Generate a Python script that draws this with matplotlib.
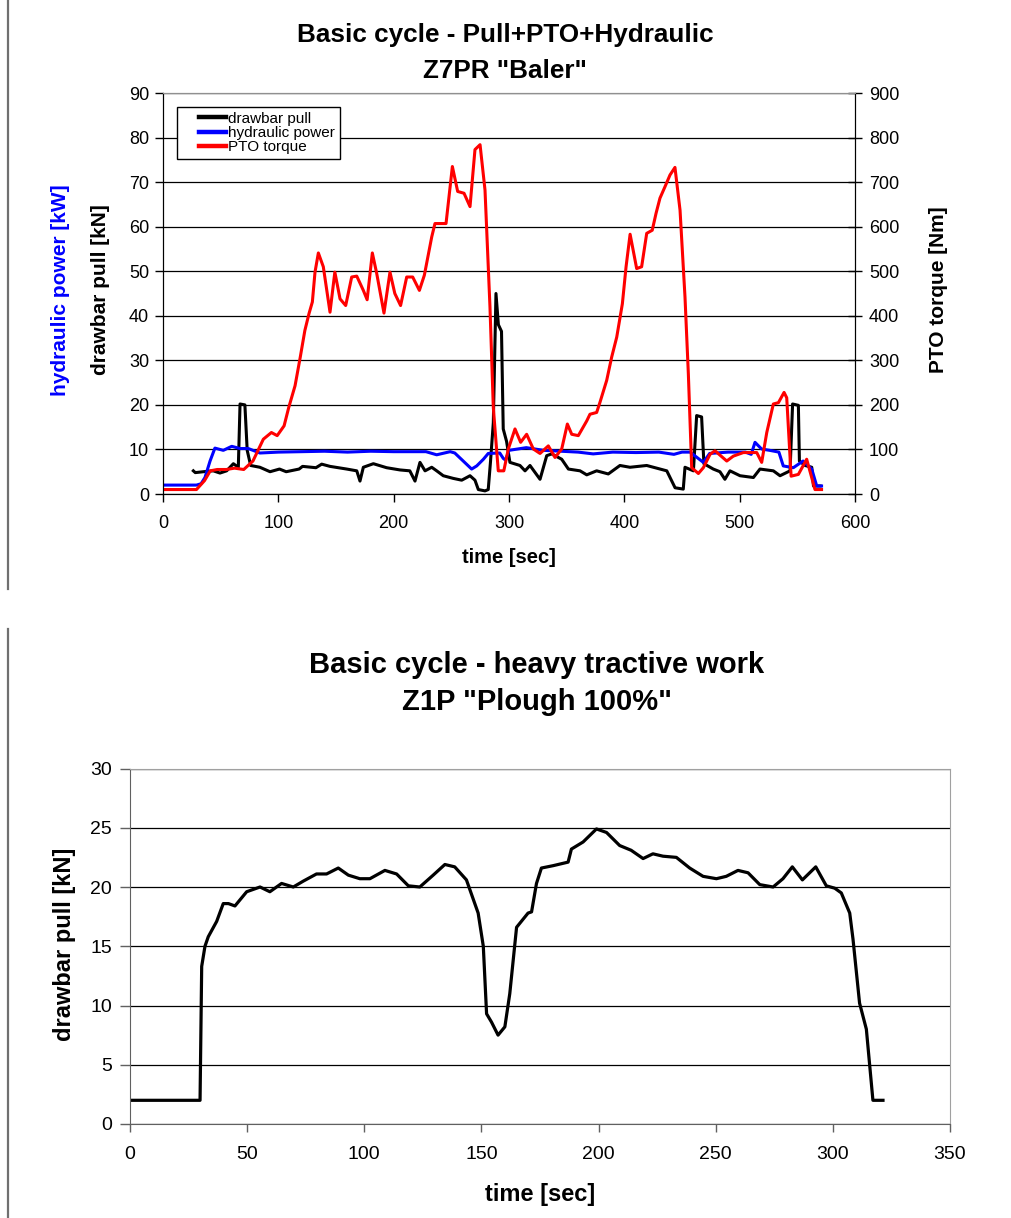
import numpy as np
import matplotlib
matplotlib.use('Agg')
import matplotlib.pyplot as plt
from matplotlib.lines import Line2D
from matplotlib.legend_handler import HandlerLine2D

plt.rcParams['font.family'] = ['Liberation Sans', 'DejaVu Sans']

# --- top chart: Z7PR "Baler" ---
t_pull = [26.3, 28, 35, 43.6, 49.4, 55.2, 61, 65.3, 66.8, 71,
          73, 76, 84, 92.8, 101, 106.8, 118, 121, 132.6, 137.6,
          144.8, 159.3, 168, 170.8, 173.7, 182.4, 193.9, 205.5, 214, 218.5,
          222.8, 227.2, 233, 237.3, 243, 251.7, 259, 266.2, 270.5, 273.4,
          279.2, 282, 284, 286.4, 288.7, 290.8, 293.5, 295, 297.9, 300.8,
          309.5, 313.9, 318.2, 326.9, 332.7, 337, 345.7, 351.5, 361.6, 367.4,
          376, 386.1, 396.2, 404.9, 419.4, 436.8, 444, 451.1, 452.6, 459.9,
          462.7, 467, 469, 477.1, 482.9, 487.2, 491.6, 500.3, 511.9, 517.6,
          529.2, 535, 543.7, 545.9, 550.9, 551.8, 556.7, 562.5, 564, 569.8]
pull = [5.2, 4.8, 5.0, 5.2, 4.7, 5.2, 6.8, 6.0, 20.2, 20.0,
        9.8, 6.4, 6.0, 5.0, 5.6, 5.0, 5.6, 6.2, 5.9, 6.7,
        6.2, 5.6, 5.2, 2.9, 6.0, 6.8, 5.9, 5.4, 5.2, 2.9,
        7.1, 5.2, 6.0, 5.2, 4.1, 3.5, 3.1, 4.1, 3.1, 1.0,
        0.7, 1.0, 7.4, 16.0, 45.0, 38.0, 36.5, 14.6, 11.8, 7.1,
        6.4, 5.2, 6.4, 3.3, 8.6, 9.0, 7.8, 5.6, 5.2, 4.3,
        5.2, 4.5, 6.4, 6.0, 6.4, 5.2, 1.4, 1.1, 6.0, 5.2,
        17.6, 17.3, 6.8, 5.6, 5.0, 3.3, 5.2, 4.1, 3.7, 5.6,
        5.2, 4.1, 5.2, 20.2, 19.9, 7.4, 6.4, 6.0, 1.8, 1.8]

t_hyd = [0, 29, 33, 36.4, 40.8, 45, 52.3, 59.6, 66.8, 74,
         84, 100, 120, 140, 160, 180, 200, 215, 228, 237.3,
         249, 253, 267.6, 272, 277.8, 282, 292, 295, 297, 300,
         315, 330, 345, 360, 373, 390, 410, 430, 443, 450,
         457, 468.5, 474, 490, 505, 510, 513.3, 519, 526, 534,
         537.8, 546.5, 555, 562.5, 566.8, 571]
hyd = [2, 2, 2.3, 3.7, 7.4, 10.3, 9.8, 10.7, 10.2, 10.2,
       9.2, 9.4, 9.5, 9.6, 9.4, 9.6, 9.5, 9.5, 9.5, 8.8,
       9.5, 9.2, 5.6, 6.3, 7.8, 9.1, 9.2, 8.0, 7.6, 9.8,
       10.4, 9.8, 9.6, 9.4, 9.0, 9.4, 9.3, 9.4, 8.9, 9.4,
       9.4, 7.1, 9.1, 9.4, 9.4, 8.9, 11.6, 10.1, 9.8, 9.4,
       6.3, 5.9, 7.4, 5.6, 1.8, 1.8]

t_pto = [0, 29, 36, 41, 47, 55, 62, 70, 78, 87,
         94, 99, 105, 109, 114.5, 119, 123, 126.6, 129.5, 131.8,
         134.7, 139, 144.8, 149, 153.5, 158.4, 163.6, 168, 173.7, 177,
         181.5, 185.3, 191.6, 196.8, 201, 206, 211.3, 216.5, 222.3, 226.6,
         233, 235.8, 245.4, 250.9, 255.5, 261, 266.2, 270.5, 274.9, 279.2,
         283.5, 286.4, 290.7, 295.5, 299.4, 305.2, 310.1, 315.3, 321.1, 326.9,
         334.1, 339.9, 345.7, 350.6, 354.4, 360.1, 367.4, 370.2, 376, 378.9,
         384.7, 389, 393.4, 398.3, 401.5, 405, 410.7, 415, 419.4, 424.2,
         427.5, 430.9, 435.3, 439.6, 443.9, 448.3, 452.6, 455.5, 458.4, 464.2,
         468.5, 474.3, 478.6, 488.8, 494.5, 503.2, 514.8, 519.1, 523.5, 529.2,
         533.6, 538.5, 540.8, 544.6, 550.9, 558.1, 565.3, 571]
pto = [10, 10, 30, 52, 55, 55, 58, 55, 74, 123,
       138, 131, 153, 194, 243, 307, 367, 405, 431, 498,
       541, 510, 408, 498, 438, 423, 487, 489, 457, 436,
       541, 495, 406, 498, 450, 423, 487, 487, 457, 491,
       577, 607, 607, 735, 679, 675, 645, 773, 784, 682,
       420, 194, 52, 52, 101, 146, 116, 134, 101, 91,
       108, 82, 101, 157, 134, 131, 164, 179, 183, 206,
       255, 307, 352, 427, 510, 583, 506, 510, 585, 592,
       630, 664, 690, 716, 733, 637, 442, 270, 59, 46,
       59, 89, 97, 74, 85, 93, 93, 71, 138, 202,
       205, 228, 216, 40, 44, 78, 10, 10]

# --- bottom chart: Z1P "Plough 100%" ---
t_plough = [0, 29.9, 30.6, 32, 33.4, 37, 39.8, 42, 44.8, 49.8,
            55.5, 59.7, 64.7, 69.7, 74, 79.6, 83.9, 88.9, 93.2, 98.1,
            102.4, 108.8, 113.8, 118.8, 123.7, 129.4, 134.4, 138.6, 143.6, 148.6,
            150.8, 152.2, 154.3, 157.1, 160, 162.1, 165, 169.9, 171.4, 173.5,
            175.6, 180.6, 187, 188.4, 193.4, 199.1, 203.4, 209, 213.9, 219,
            223.2, 227.5, 233.2, 238.9, 244.6, 250.3, 254.5, 259.5, 263.8, 268.8,
            274.5, 278.7, 282.7, 287, 292.7, 297.2, 300.8, 303.6, 307.2, 308.6,
            311.4, 314.3, 317.1, 321.4]
plough = [2, 2, 13.3, 15.0, 15.8, 17.1, 18.6, 18.6, 18.4, 19.6,
          20.0, 19.6, 20.3, 20.0, 20.5, 21.1, 21.1, 21.6, 21.0, 20.7,
          20.7, 21.4, 21.1, 20.1, 20.0, 21.0, 21.9, 21.7, 20.6, 17.8,
          15.0, 9.3, 8.6, 7.5, 8.2, 11.0, 16.6, 17.8, 17.9, 20.3,
          21.6, 21.8, 22.1, 23.2, 23.8, 24.9, 24.6, 23.5, 23.1, 22.4,
          22.8, 22.6, 22.5, 21.6, 20.9, 20.7, 20.9, 21.4, 21.2, 20.2,
          20.0, 20.7, 21.7, 20.6, 21.7, 20.1, 19.9, 19.5, 17.8, 15.6,
          10.2, 8.0, 2.0, 2.0]

W, H = 1011, 1218
fig = plt.figure(figsize=(W / 100, H / 100), dpi=100)


def fx(px):
    return px / W


def fy(py):
    return 1 - py / H


# left border strokes
fig.add_artist(Line2D([fx(8), fx(8)], [fy(0), fy(589)], color='#707070', lw=1.6))
fig.add_artist(Line2D([fx(8), fx(8)], [fy(629), fy(1218)], color='#707070', lw=1.6))

# ---------------- top chart ----------------
ax = fig.add_axes([fx(163), fy(494), fx(855) - fx(163), fy(93) - fy(494)])
ax2 = ax.twinx()

l_pull, = ax.plot(t_pull, pull, color='black', lw=2.2, label='drawbar pull')
l_hyd, = ax.plot(t_hyd, hyd, color='#0000ff', lw=2.2, label='hydraulic power')
l_pto, = ax2.plot(t_pto, pto, color='#ff0000', lw=2.2, label='PTO torque')

ax.set_xlim(0, 600)
ax.set_ylim(0, 90)
ax2.set_ylim(0, 900)
ax.set_xticks(np.arange(0, 601, 100))
ax.set_yticks(np.arange(0, 91, 10))
ax2.set_yticks(np.arange(0, 901, 100))
ax.yaxis.grid(True, color='black', lw=0.9)
ax.set_axisbelow(True)

ax.tick_params(axis='y', direction='out', length=6, width=1, pad=4, labelsize=13)
ax.tick_params(axis='x', direction='out', length=6, width=1, pad=9, labelsize=13)
ax2.tick_params(axis='y', direction='inout', length=10, width=1, pad=5, labelsize=13)
for a in (ax, ax2):
    a.spines['top'].set_color('#909090')
    a.spines['left'].set_color('black')
    a.spines['bottom'].set_color('black')
    a.spines['right'].set_color('black')

leg = ax.legend(handles=[l_pull, l_hyd, l_pto], loc='upper left',
                bbox_to_anchor=(fx(177), fy(107)), bbox_transform=fig.transFigure,
                borderaxespad=0, fontsize=11, fancybox=False, framealpha=1,
                edgecolor='black', borderpad=0.3, labelspacing=0.02,
                handlelength=2.9, handletextpad=0.15,
                handler_map={Line2D: HandlerLine2D(xpad=1.15)})
leg.get_frame().set_linewidth(1.0)
for h in leg.get_lines():
    h.set_linewidth(3.2)

fig.text(fx(505), fy(41.7), 'Basic cycle - Pull+PTO+Hydraulic', ha='center',
         va='baseline', fontsize=18.8, fontweight='bold')
fig.text(fx(505), fy(78.3), 'Z7PR "Baler"', ha='center', va='baseline',
         fontsize=18.8, fontweight='bold')
fig.text(fx(61), fy(290), 'hydraulic power [kW]', rotation=90, ha='center',
         va='center', fontsize=15, fontweight='bold', color='#0000ff')
fig.text(fx(101), fy(290), 'drawbar pull [kN]', rotation=90, ha='center',
         va='center', fontsize=15, fontweight='bold')
fig.text(fx(938), fy(290), 'PTO torque [Nm]', rotation=90, ha='center',
         va='center', fontsize=15, fontweight='bold')
fig.text(fx(509), fy(557), 'time [sec]', ha='center', va='center',
         fontsize=14.5, fontweight='bold')

# ---------------- bottom chart ----------------
bx = fig.add_axes([fx(130), fy(1124), fx(950) - fx(130), fy(768.5) - fy(1124)])
bx.plot(t_plough, plough, color='black', lw=2.3)
bx.set_xlim(0, 350)
bx.set_ylim(0, 30)
bx.set_xticks(np.arange(0, 351, 50))
bx.set_yticks(np.arange(0, 31, 5))
bx.yaxis.grid(True, color='black', lw=0.9)
bx.set_axisbelow(True)
bx.tick_params(axis='y', direction='out', length=7, width=1, pad=6, labelsize=14,
               color='#606060')
bx.tick_params(axis='x', direction='out', length=6, width=1, pad=10, labelsize=14,
               color='#606060')
bx.spines['left'].set_color('#606060')
bx.spines['bottom'].set_color('#606060')
bx.spines['top'].set_color('#a0a0a0')
bx.spines['right'].set_color('#a0a0a0')

fig.text(fx(537), fy(673), 'Basic cycle - heavy tractive work', ha='center',
         va='baseline', fontsize=21, fontweight='bold')
fig.text(fx(537), fy(710.5), 'Z1P "Plough 100%"', ha='center', va='baseline',
         fontsize=21, fontweight='bold')
fig.text(fx(64), fy(944), 'drawbar pull [kN]', rotation=90, ha='center',
         va='center', fontsize=17, fontweight='bold')
fig.text(fx(540), fy(1194), 'time [sec]', ha='center', va='center',
         fontsize=17, fontweight='bold')

fig.savefig('out.png', dpi=100)
